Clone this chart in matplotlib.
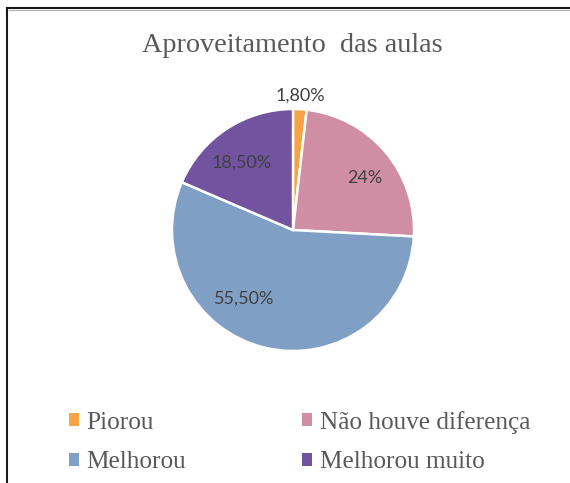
import numpy as np
import matplotlib
matplotlib.use("Agg")
import matplotlib.pyplot as plt
from matplotlib.lines import Line2D
from matplotlib.patches import Patch

plt.rcParams["font.serif"] = ["Liberation Serif", "DejaVu Serif"]

# data
categories = ["Piorou", "Não houve diferença", "Melhorou", "Melhorou muito"]
values = [1.8, 24, 55.5, 18.5]
pct_labels = ["1,80%", "24%", "55,50%", "18,50%"]
colors = ["#F4A443", "#D08EA4", "#7F9FC4", "#7153A0"]

W, H = 570, 483
fig = plt.figure(figsize=(W / 100, H / 100), dpi=100)

# pie axes, centre ~ (293, 230) px, radius ~120 px
cx, cy, r = 293, 230, 121
ax = fig.add_axes([(cx - r) / W, (H - cy - r) / H, 2 * r / W, 2 * r / H])
wedges, _ = ax.pie(values, colors=colors, startangle=90, counterclock=False,
                   wedgeprops=dict(edgecolor="white", linewidth=1.8))
ax.set_xlim(-1, 1)
ax.set_ylim(-1, 1)
ax.set_aspect("equal")

# label placement: radius and angle nudge per slice (excel "best fit" look)
lab_r = [1.13, 0.74, 0.68, 0.71]
lab_shift = [0, -3.5, -23, 3]
for w, txt, rr, sh in zip(wedges, pct_labels, lab_r, lab_shift):
    ang = np.deg2rad((w.theta1 + w.theta2) / 2 + sh)
    ax.text(rr * np.cos(ang), rr * np.sin(ang) - 0.015, txt, ha="center", va="center",
            fontsize=13, family="Lato", color="#404040")

fig.text(292 / W, 1 - 46 / H, "Aproveitamento  das aulas", ha="center", va="center",
         fontsize=20.3, family="serif", color="#595959")

# legend is filled row by row in the reference -> reorder for column filling
order = [0, 2, 1, 3]
handles = [Patch(facecolor=colors[i], edgecolor="none") for i in order]
leg = fig.legend(handles, [categories[i] for i in order], ncol=2, loc="upper left",
                 bbox_to_anchor=(46 / W, 1 - 388 / H), frameon=False,
                 prop=dict(family="serif", size=18.2),
                 handlelength=0.4, handleheight=0.4, handletextpad=0.3,
                 columnspacing=4.6, labelspacing=0.7)
for t in leg.get_texts():
    t.set_color("#595959")

# partial frame (left + top)
fig.add_artist(Line2D([7 / W, 7 / W], [0, 1 - 8 / H], transform=fig.transFigure,
                      color="#1a1a1a", lw=1.5))
fig.add_artist(Line2D([7 / W, 1], [1 - 8 / H, 1 - 8 / H], transform=fig.transFigure,
                      color="#1a1a1a", lw=1.5))
fig.add_artist(Line2D([8.5 / W, 1], [1 - 9.7 / H, 1 - 9.7 / H], transform=fig.transFigure,
                      color="#b0b0b0", lw=0.8))

fig.savefig("out.png", dpi=100)
